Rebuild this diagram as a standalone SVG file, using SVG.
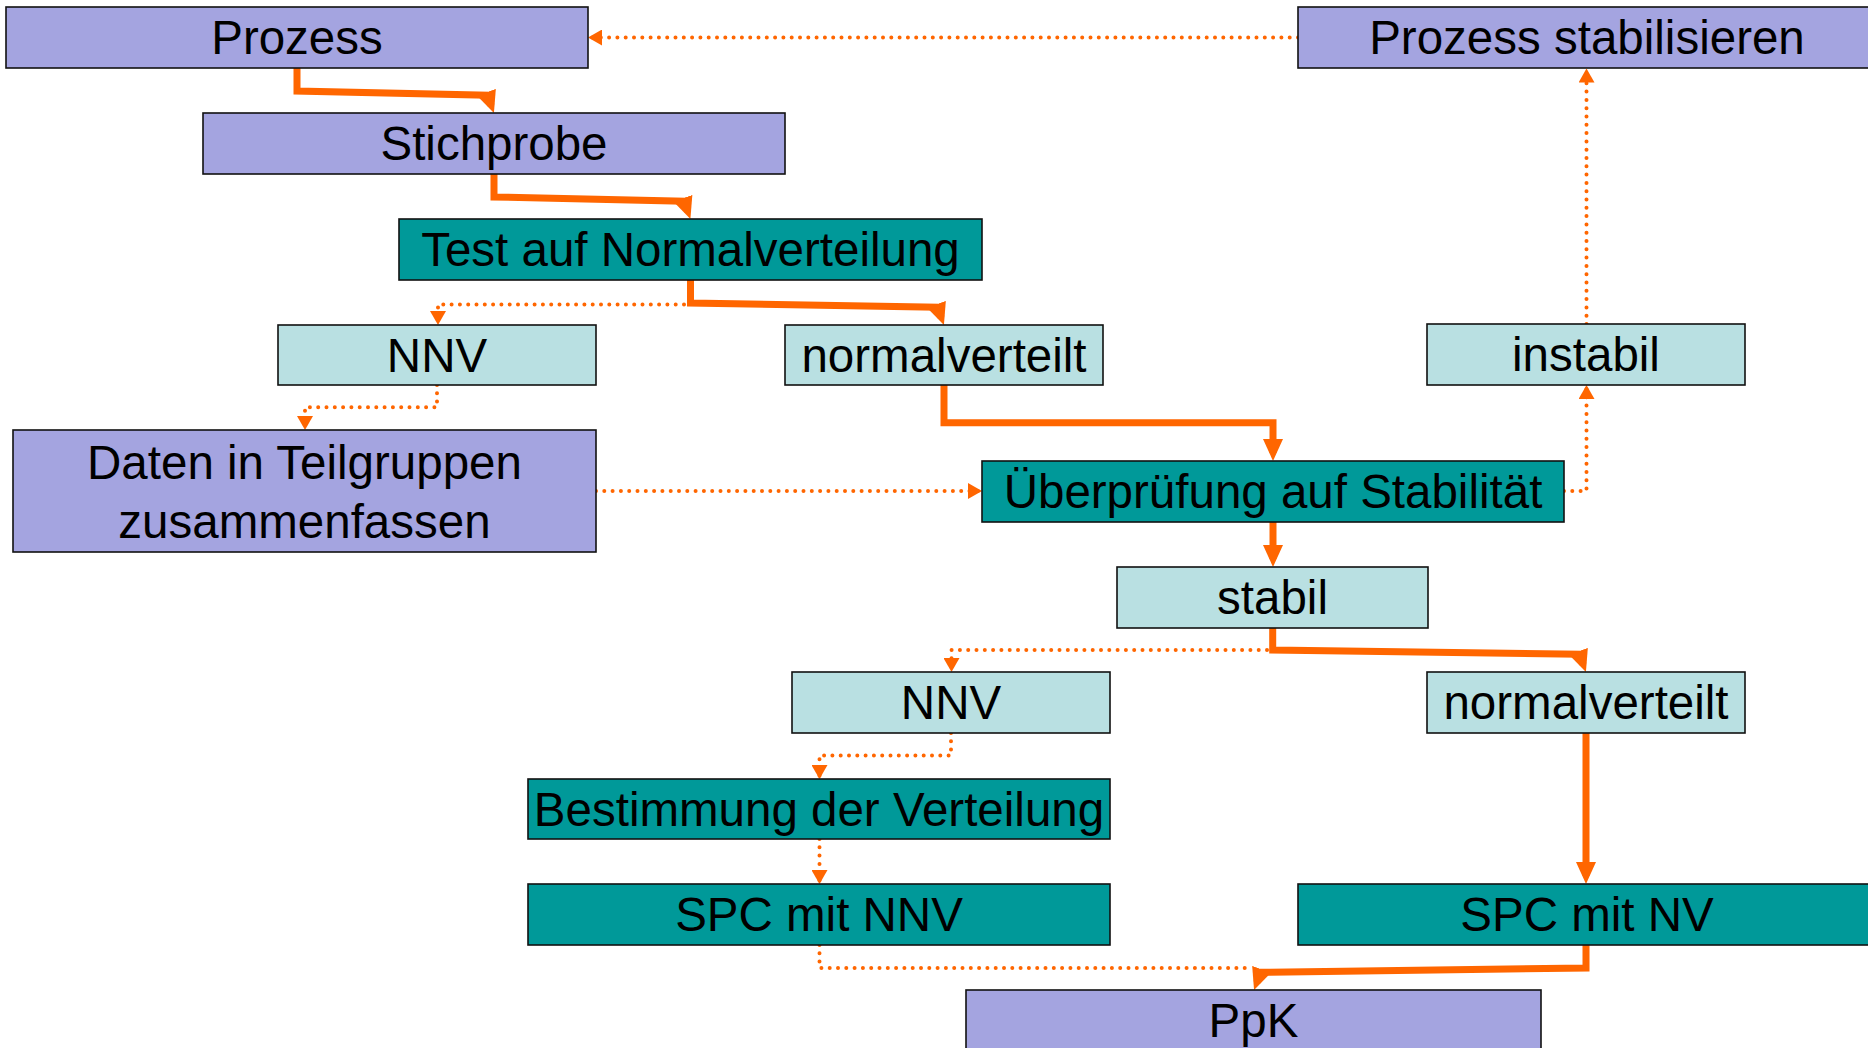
<svg xmlns="http://www.w3.org/2000/svg" width="1868" height="1048" viewBox="0 0 1868 1048">
<style>
  .box { stroke: #111111; stroke-width: 1.6; }
  .lav { fill: #A4A4E0; }
  .teal { fill: #009999; }
  .light { fill: #B9E0E2; }
  text { font-family: "Liberation Sans", Arial, sans-serif; font-size: 47.5px; fill: #000000; text-anchor: middle; }
  .solid { fill: none; stroke: #FF6600; stroke-width: 7; stroke-linejoin: miter; }
  .dot { fill: none; stroke: #FF6600; stroke-width: 4; stroke-dasharray: 0 8.3; stroke-linecap: round; }
  .solid.arr { marker-end: url(#arrowSolid); }
  .dot.arr { marker-end: url(#arrowDot); }
</style>
<defs>
  <marker id="arrowSolid" markerUnits="userSpaceOnUse" viewBox="0 0 22 20" markerWidth="22" markerHeight="20" refX="14" refY="10" orient="auto">
    <path d="M0,0 L22,10 L0,20 z" fill="#FF6600"/>
  </marker>
  <marker id="arrowDot" markerUnits="userSpaceOnUse" viewBox="0 0 14 16" markerWidth="14" markerHeight="16" refX="11" refY="8" orient="auto">
    <path d="M0,0 L14,8 L0,16 z" fill="#FF6600"/>
  </marker>
</defs>
<rect width="1868" height="1048" fill="#FFFFFF"/>

<g id="connectors">
  <path class="solid arr" d="M297,68 V91 L487.5,95.3 L491.2,105.5"/>
  <path class="solid arr" d="M494,174 V197 L684,201.3 L687.7,211.5"/>
  <path class="solid arr" d="M690.5,280 V303 L937.5,307.3 L941.2,317.5"/>
  <path class="solid arr" d="M944,385 V422.8 H1273 V453"/>
  <path class="solid arr" d="M1273,522 V559"/>
  <path class="solid arr" d="M1272.7,628 V650 L1579.5,654.3 L1583.2,664.5"/>
  <path class="solid arr" d="M1586,733 V876"/>
  <path class="dot" d="M819.5,945 V968 H1250"/>
  <path class="solid arr" d="M1586,945 V968 L1260.5,972.3 L1256.8,982.5"/>
  <path class="dot arr" d="M1298,37.5 H591"/>
  <path class="dot arr" d="M684,304.5 H438 V322"/>
  <path class="dot arr" d="M437,385 V407.3 H305 V427"/>
  <path class="dot arr" d="M596,491 H979"/>
  <path class="dot arr" d="M1564,491 H1586.5 V388"/>
  <path class="dot arr" d="M1586.5,324 V71.5"/>
  <path class="dot arr" d="M1267,650 H951.5 V669"/>
  <path class="dot arr" d="M951,733 V755.5 H819.5 V776"/>
  <path class="dot arr" d="M819.5,839 V881"/>
</g>

<g id="prozess"><rect class="box lav" x="6" y="7" width="582" height="61"/><text x="297" y="54">Prozess</text></g>
<g id="prozess-stabilisieren"><rect class="box lav" x="1298" y="7" width="582" height="61"/><text x="1587" y="54">Prozess stabilisieren</text></g>
<g id="stichprobe"><rect class="box lav" x="203" y="113" width="582" height="61"/><text x="494" y="160">Stichprobe</text></g>
<g id="test-normalverteilung"><rect class="box teal" x="399" y="219" width="583" height="61"/><text x="690.5" y="266">Test auf Normalverteilung</text></g>
<g id="nnv-1"><rect class="box light" x="278" y="325" width="318" height="60"/><text x="437" y="371.5">NNV</text></g>
<g id="normalverteilt-1"><rect class="box light" x="785" y="325" width="318" height="60"/><text x="944" y="371.5">normalverteilt</text></g>
<g id="instabil"><rect class="box light" x="1427" y="324" width="318" height="61"/><text x="1586" y="371">instabil</text></g>
<g id="daten-teilgruppen"><rect class="box lav" x="13" y="430" width="583" height="122"/><text x="304.5" y="479">Daten in Teilgruppen</text><text x="304.5" y="538">zusammenfassen</text></g>
<g id="ueberpruefung-stabilitaet"><rect class="box teal" x="982" y="461" width="582" height="61"/><text x="1273" y="508">Überprüfung auf Stabilität</text></g>
<g id="stabil"><rect class="box light" x="1117" y="567" width="311" height="61"/><text x="1272.5" y="614">stabil</text></g>
<g id="nnv-2"><rect class="box light" x="792" y="672" width="318" height="61"/><text x="951" y="719">NNV</text></g>
<g id="normalverteilt-2"><rect class="box light" x="1427" y="672" width="318" height="61"/><text x="1586" y="719">normalverteilt</text></g>
<g id="bestimmung-verteilung"><rect class="box teal" x="528" y="779" width="582" height="60"/><text x="819" y="825.5">Bestimmung der Verteilung</text></g>
<g id="spc-nnv"><rect class="box teal" x="528" y="884" width="582" height="61"/><text x="819" y="931">SPC mit NNV</text></g>
<g id="spc-nv"><rect class="box teal" x="1298" y="884" width="582" height="61"/><text x="1587" y="931">SPC mit NV</text></g>
<g id="ppk"><rect class="box lav" x="966" y="990" width="575" height="61"/><text x="1253.5" y="1037">PpK</text></g>
</svg>
